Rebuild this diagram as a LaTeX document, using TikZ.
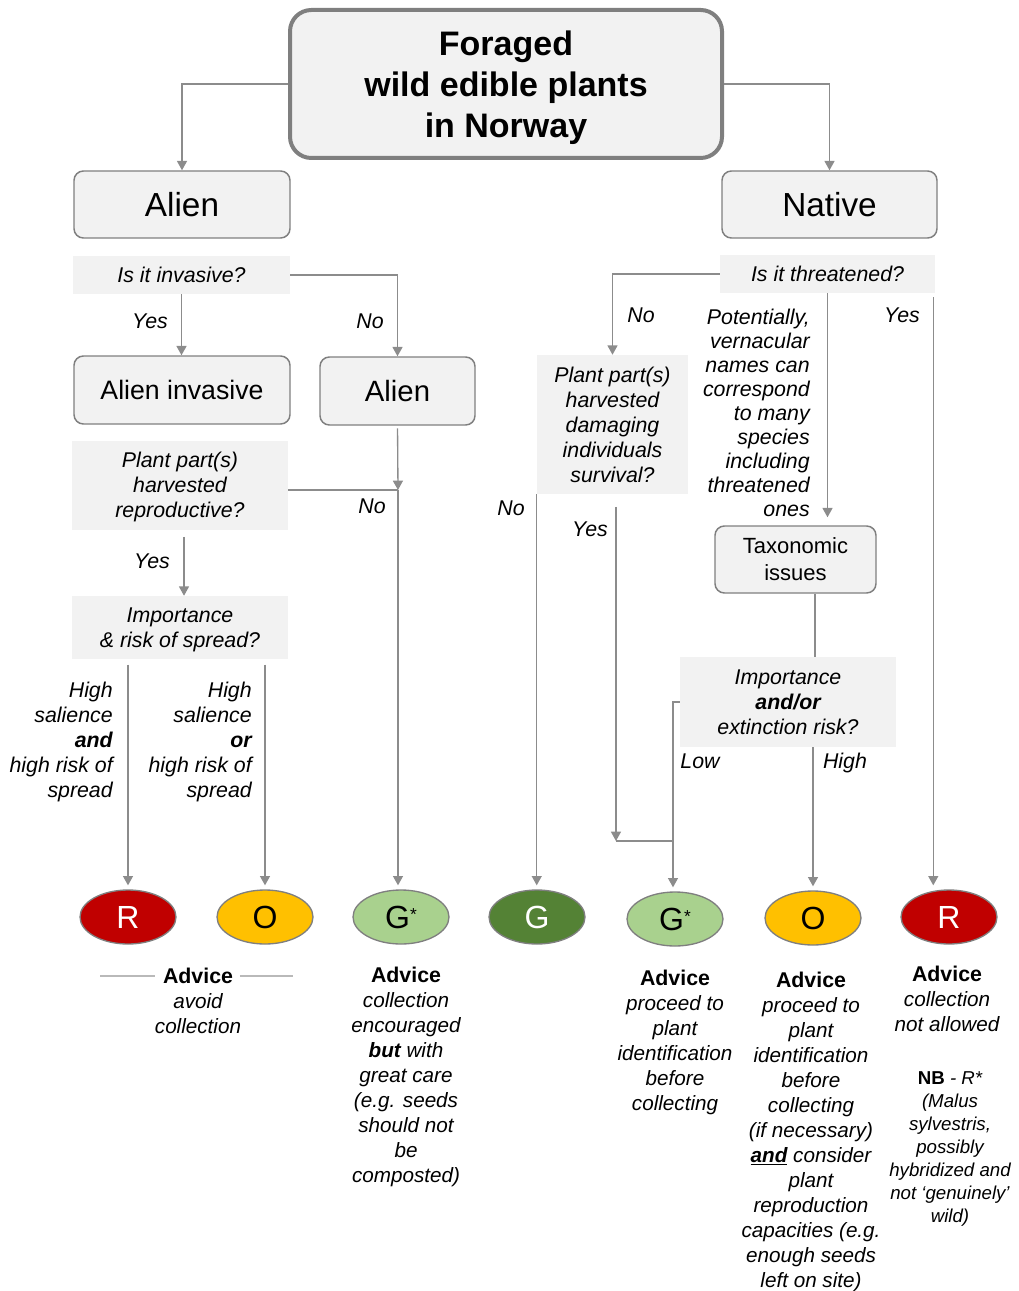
\documentclass[tikz,border=0pt]{standalone}
\usepackage{fontspec}
\setmainfont{Liberation Sans}
\usetikzlibrary{arrows.meta,shapes.geometric}
\definecolor{boxfill}{HTML}{F2F2F2}
\definecolor{edgegray}{HTML}{7F7F7F}
\definecolor{conngray}{HTML}{8C8C8C}
\definecolor{cR}{HTML}{C00000}
\definecolor{cO}{HTML}{FFC000}
\definecolor{cGl}{HTML}{A9D18E}
\definecolor{cG}{HTML}{548235}
\newcommand\gstar{G\raisebox{6pt}{\fontsize{13}{13}\selectfont *}}
\begin{document}
\begin{tikzpicture}[x=0.75pt,y=-0.75pt,
  conn/.style={draw=conngray, line width=1pt},
  arr/.style={conn, -{Triangle[length=7pt,width=7.5pt]}},
  rbox/.style={draw=edgegray, fill=boxfill, line width=1.1pt, rounded corners=7pt, align=center, inner sep=0pt},
  qbox/.style={fill=boxfill, align=center, inner sep=0pt, font=\fontsize{16}{18.75}\selectfont\itshape},
  lab/.style={inner sep=0pt, font=\fontsize{16}{18.75}\selectfont\itshape},
  dot/.style={ellipse, draw=edgegray, line width=1pt, minimum width=72pt, minimum height=40.5pt, inner sep=0pt, font=\fontsize{24}{24}\selectfont},
  adv/.style={inner sep=0pt, align=center, font=\fontsize{15.5}{18.75}\selectfont\itshape},
]
\useasboundingbox (0,0) rectangle (1018,1291);

% boxes
\node[rbox, line width=3pt, rounded corners=16pt, minimum width=324pt, minimum height=111pt,
      font=\fontsize{25.5}{30.75}\selectfont\bfseries] (title) at (506,84)
      {\raisebox{-3pt}[\height][\depth]{\begin{tabular}{@{}c@{}}Foraged\\wild edible plants\\in Norway\end{tabular}}};
\node[rbox, minimum width=162pt, minimum height=50.25pt, font=\fontsize{25}{28}\selectfont] (alien) at (182,204.5) {Alien};
\node[rbox, minimum width=161.25pt, minimum height=50.25pt, font=\fontsize{25}{28}\selectfont] (native) at (829.5,204.5) {Native};

\node[qbox, minimum width=162.75pt, minimum height=28.5pt] (qinv) at (181.5,275) {Is it invasive?};
\node[rbox, minimum width=162pt, minimum height=51pt, font=\fontsize{20}{24}\selectfont] (ainv) at (182,390) {Alien invasive};
\node[rbox, minimum width=116.25pt, minimum height=51pt, font=\fontsize{22}{26}\selectfont] (alien2) at (397.5,391) {Alien};
\node[qbox, minimum width=162pt, minimum height=66.75pt] (qrep) at (180,485.5) {\raisebox{-1.8pt}[\height][\depth]{\begin{tabular}{@{}c@{}}Plant part(s)\\harvested\\reproductive?\end{tabular}}};
\node[qbox, minimum width=162pt, minimum height=47.25pt] (qspread) at (180,627.5) {\raisebox{-1.5pt}[\height][\depth]{\begin{tabular}{@{}c@{}}Importance\\\& risk of spread?\end{tabular}}};

\node[qbox, minimum width=161.25pt, minimum height=28.5pt] (qthr) at (827.5,274) {Is it threatened?};
\node[qbox, minimum width=113.25pt, minimum height=104.25pt] (qdam) at (612.5,424.5) {Plant part(s)\\harvested\\damaging\\individuals\\survival?};
\node[rbox, minimum width=120.75pt, minimum height=50.25pt, font=\fontsize{16.5}{20.25}\selectfont] (tax) at (795.5,559.5) {Taxonomic\\issues};
\node[qbox, minimum width=162pt, minimum height=67.5pt] (qext) at (788,702) {Importance\\\textbf{and/or}\\extinction risk?};

% outcome dots
\node[dot, fill=cR, text=white] (r1) at (128,917) {R};
\node[dot, fill=cO] (o1) at (265,917) {O};
\node[dot, fill=cGl] (gs1) at (401,917) {\gstar};
\node[dot, fill=cG, text=white] (g2) at (537,917) {G};
\node[dot, fill=cGl] (gs2) at (675,919) {\gstar};
\node[dot, fill=cO] (o2) at (813,918) {O};
\node[dot, fill=cR, text=white] (r2) at (949,917) {R};

% junctions
\coordinate (j1) at (398,490);
\coordinate (j2) at (673,841);

% connectors
\draw[arr] (title.west) -| (alien.north);
\draw[arr] (title.east) -| (native.north);
\draw[arr] (qinv.south) -- (qinv.south |- ainv.north);
\draw[arr] (qinv.east) -| (alien2.north);
\draw[arr, shorten <=2pt] (alien2.south) -- (j1);
\draw[conn] (qrep.east |- j1) -- (j1);
\draw[arr, shorten >=3pt] (j1) -- (j1 |- gs1.north);
\draw[arr, shorten <=5pt] ([xshift=3pt]qrep.south) -- ([xshift=3pt]qrep.south |- qspread.north);
\draw[arr, shorten <=4pt, shorten >=3pt] (r1.north |- qspread.south) -- (r1.north);
\draw[arr, shorten <=4pt, shorten >=3pt] (o1.north |- qspread.south) -- (o1.north);

\draw[arr] (qthr.west) -| (qdam.north);
\draw[arr, shorten >=6pt] (qthr.south) -- (qthr.south |- tax.north);
\draw[arr, shorten <=3pt, shorten >=3pt] ([xshift=-1.5pt]qthr.south east) -- ([xshift=-1.5pt]qthr.south east |- r2.north);
\draw[arr, shorten >=3pt] (qdam.south west) -- (qdam.south west |- g2.north);
\draw[arr] ([xshift=2.6pt,yshift=-9.5pt]qdam.south) coordinate (ys) -- (ys |- j2);
\draw[conn] (ys |- j2) -- (j2);
\draw[conn] ([xshift=14.6pt]tax.south) -- ([xshift=14.6pt]tax.south |- qext.north);
\draw[arr, shorten >=3pt] (o2.north |- qext.south) -- (o2.north);
\draw[arr, shorten >=3pt] (qext.west) -| (j2) -- (j2 |- gs2.north);

% branch labels
\node[lab] (l1) at (150,321) {Yes};
\node[lab] (l2) at (370,321) {No};
\node[lab] (l3) at (372,506) {No};
\node[lab] (l4) at (152,561) {Yes};
\node[lab, anchor=east, align=right] (l5) at (113,742) {High\\salience\\\textbf{and}\\high risk of\\spread};
\node[lab, anchor=east, align=right] (l6) at (252,742) {High\\salience\\\textbf{or}\\high risk of\\spread};
\node[lab] (l7) at (641,315) {No};
\node[lab] (l8) at (902,315) {Yes};
\node[lab, anchor=east, align=right, font=\fontsize{16}{18}\selectfont\itshape] (l9) at (810,412.5)
  {Potentially,\\vernacular\\names can\\correspond\\to many\\species\\including\\threatened\\ones};
\node[lab] (l10) at (511,508) {No};
\node[lab] (l11) at (590,529) {Yes};
\node[lab] (l12) at (700,761) {Low};
\node[lab] (l13) at (845,763) {High};

% advice texts
\node[adv, font=\fontsize{16}{18.75}\selectfont\bfseries] (adv1h) at (198,976) {Advice};
\draw[draw=gray!55, line width=0.8pt] ([xshift=-6pt]adv1h.west) -- ++(-55,0);
\draw[draw=gray!55, line width=0.8pt] ([xshift=5pt]adv1h.east) -- ++(53,0);
\node[adv] (adv1) at (198,1013.5) {avoid\\collection};
\node[adv] (adv2) at (406,1077) {{\upshape\bfseries\fontsize{16}{18.75}\selectfont Advice}\\collection\\encouraged\\\textbf{but} with\\great care\\(e.g. seeds\\should not\\be\\composted)};
\node[adv] (adv3) at (675,1042) {{\upshape\bfseries\fontsize{16}{18.75}\selectfont Advice}\\proceed to\\plant\\identification\\before\\collecting};
\node[adv] (adv4) at (811,1132) {{\upshape\bfseries\fontsize{16}{18.75}\selectfont Advice}\\proceed to\\plant\\identification\\before\\collecting\\(if necessary)\\\underline{\textbf{and}} consider\\plant\\reproduction\\capacities (e.g.\\enough seeds\\left on site)};
\node[adv] (adv5) at (947,999) {{\upshape\bfseries\fontsize{16}{18.75}\selectfont Advice}\\collection\\not allowed};
\node[adv, font=\fontsize{14}{17.25}\selectfont\itshape] (nb) at (950,1149) {{\upshape\bfseries NB} - R*\\(Malus\\sylvestris,\\possibly\\hybridized and\\not ‘genuinely’\\wild)};
\end{tikzpicture}
\end{document}
